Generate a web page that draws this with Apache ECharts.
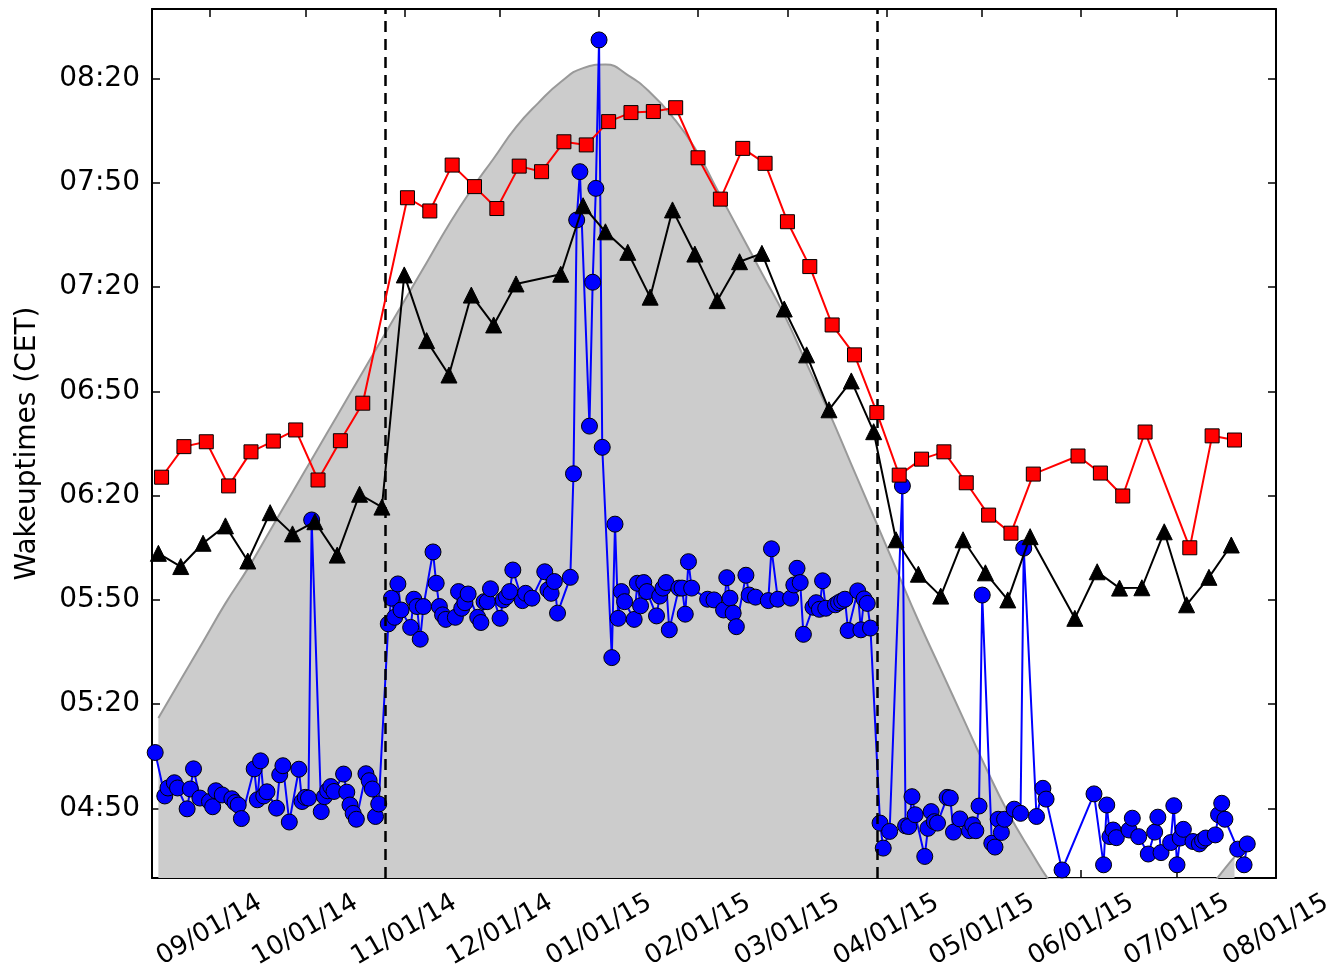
<!DOCTYPE html>
<html>
<head>
<meta charset="utf-8">
<script src="https://cdn.jsdelivr.net/npm/echarts@6/dist/echarts.min.js"></script>
<style>
  html, body { margin: 0; padding: 0; background: #ffffff; }
  #chart { width: 1332px; height: 967px; }
</style>
</head>
<body>
<div id="chart"></div>
<script>
// All day numbers count from this first day (UTC dates).
const START_DAY = '2014-08-14';
const END_DAY = '2015-08-01';

// Daily wake-up times (minutes after midnight, CET)
const dailyDays = [1,4,5,7,8,11,12,13,15,18,19,20,22,25,26,27,28,32,33,34,35,36,39,40,41,43,46,47,48,49,50,53,54,55,56,57,60,61,62,63,64,67,68,69,70,71,
  74,75,76,77,78,81,82,83,84,85,88,89,90,91,92,95,96,97,98,99,102,103,104,105,106,109,110,111,112,113,116,117,119,123,124,125,126,127,131,
  132,133,134,137,138,139,140,141,144,145,
  146,147,148,151,152,153,154,155,158,159,160,161,162,165,166,167,168,169,174,
  176,179,180,181,182,183,186,187,189,193,194,196,200,201,202,203,204,207,208,209,210,211,214,215,216,217,218,221,222,223,224,225,
  228,229,231,235,236,237,238,239,242,243,244,245,246,249,250,251,253,256,257,258,259,260,263,264,265,266,267,270,272,273,277,279,280,285,
  295,298,299,300,301,302,306,307,309,312,314,315,316,319,320,321,322,323,326,328,329,330,333,334,335,336,340,342,343];
const dailyTimes = [306.1,293.6,295.9,297.4,295.9,289.9,295.6,301.4,293,292,290.5,295.1,293.9,292.8,291.7,291,287.1,301.4,292.5,303.7,293.6,294.8,290.1,299.7,302.3,286.1,301.3,292,293.2,293,373,289.1,293.4,295.1,296.3,294.9,299.9,294.7,291,288.6,286.9,300,298,295.6,287.7,291.3,
  343.1,350.5,345,354.6,347.1,342.1,350.2,348.1,338.7,348.1,363.8,354.8,348.1,345.7,344.4,345,352.4,347.6,349.2,351.7,345,343.5,349.5,349.5,353.2,344.7,350,350.9,352.4,358.6,349.8,351.9,350.5,358.1,352.9,351.9,355.3,346.2,356.5,
  386.3,459.3,473.2,400,441.4,468.4,511.1,393.9,333.4,371.8,
  344.7,352.4,349.5,344.4,354.8,348.3,355,352.4,345.4,351.1,353.4,355,341.4,353.4,353.4,345.9,361,353.4,350.2,
  350,347.1,356.4,350.5,346.2,342.3,357.1,351.4,350.8,349.8,364.7,350.2,350.5,354.3,359.1,355,340.1,347.9,349.2,347.3,355.5,347.6,348.6,349.2,349.7,350.2,341.2,352.6,341.4,350.3,349,341.9,
  285.8,278.6,283.4,382.8,285,284.8,293.4,288.2,276.2,284.3,289.1,286.2,285.8,293.2,293,283.2,287,283.6,285.3,283.6,290.7,351.4,280,278.9,286.9,283.1,286.9,289.8,288.6,364.9,287.7,295.8,292.7,272.3,
  294.2,273.8,291,281.9,283.8,281.6,283.8,287.2,281.9,276.9,283.2,287.5,277.3,280.2,290.8,273.8,281.5,284,280.5,279.8,280.8,281.5,282.4,288.2,291.5,286.9,278.3,273.8,279.8];

// Weekly values (black triangles)
const weeklyMidDays = [2,9,16,23,30,37,44,51,58,65,72,79,86,93,100,107,114,
  128,135,142,149,156,163,170,177,184,191,198,205,212,219,226,233,240,247,254,261,268,275,
  289,296,303,310,317,324,331,338];
const weeklyMidTimes = [363.4,359.6,366.3,371.3,361.2,375.1,369,372.5,362.9,380.4,376.7,443.5,424.6,414.7,437.7,429.1,440.9,
  443.7,463.4,455.9,450,437.1,462.2,449.5,436.1,447.3,449.7,433.7,420.5,404.7,413,398.4,367.3,357.4,351.1,367.3,357.8,350,368.2,
  344.7,358.1,353.4,353.5,369.6,348.6,356.5,365.8];

// Weekly values (red squares)
const weeklyHighDays = [3,10,17,24,31,38,45,52,59,66,
  80,87,94,101,108,115,122,129,136,143,150,157,164,171,178,185,192,199,206,213,220,227,234,241,248,255,262,269,276,
  290,297,304,311,325,332,339];
const weeklyHighTimes = [385.3,394.1,395.5,382.8,392.6,395.7,398.9,384.5,395.8,406.6,
  465.7,461.9,475.1,468.9,462.6,474.8,473.2,481.8,480.9,487.6,490.2,490.5,491.6,477.2,465.3,479.9,475.6,458.8,445.9,429.1,420.5,403.9,385.9,390.5,392.6,383.7,374.4,369.2,386.2,
  391.4,386.5,379.9,398.3,365,397.2,396];

// Sunrise (minutes after midnight, CET), weekly from Aug 16
const sunriseDays = [2,9,16,23,30,37,44,51,58,65,72,79,86,93,100,107,114,121,128,135,142,149,156,163,170,177,184,191,198,205,212,219,226,233,240,247,254,261,268,275,282,289,296,303,310,317,324,331,338,339];
const sunriseTimes = [316,327,338,349,359,370,381,392,403,414,425,436,447,458,468,477,486,493,499,503,504,501,496,489,480,468,456,444,432,418,404,389,374,359,344,330,316,302,289,278,268,261,256,253,252,254,259,267,275,276];

// Clock changes (dashed lines)
const clockChanges = ['2014-10-26', '2015-03-29'];

// Axis ticks
const monthTicks = ['2014-09-01','2014-10-01','2014-11-01','2014-12-01','2015-01-01','2015-02-01','2015-03-01',
  '2015-04-01','2015-05-01','2015-06-01','2015-07-01','2015-08-01'];
const clockTicks = ['04:50','05:20','05:50','06:20','06:50','07:20','07:50','08:20'];
const Y_MIN = '04:30';
const Y_MAX = '08:40';

const DAY_MS = 86400000;
const startMs = Date.parse(START_DAY + 'T00:00:00Z');
const endMs = Date.parse(END_DAY + 'T00:00:00Z');
const toMs = d => startMs + d * DAY_MS;
const dateMs = s => Date.parse(s + 'T00:00:00Z');
const clockMin = s => { const [h, m] = s.split(':').map(Number); return h * 60 + m; };
const pad = n => (n < 10 ? '0' : '') + n;
const fmtDate = v => { const d = new Date(v); return pad(d.getUTCMonth() + 1) + '/' + pad(d.getUTCDate()) + '/' + String(d.getUTCFullYear()).slice(2); };
const fmtClock = v => pad(Math.floor(v / 60)) + ':' + pad(Math.round(v % 60));

const pairs = (days, vals) => days.map((d, i) => [toMs(d), vals[i]]);

const FONT = 'DejaVu Sans';
const xTickVals = monthTicks.map(dateMs);
const yTickVals = clockTicks.map(clockMin);
const tickStyle = { inside: true, length: 8, lineStyle: { color: '#000', width: 1.5 } };
const frameLine = { show: true, onZero: false, lineStyle: { color: '#000', width: 2 } };

const chart = echarts.init(document.getElementById('chart'), null, { renderer: 'canvas' });
chart.setOption({
  animation: false,
  backgroundColor: '#ffffff',
  grid: { left: 152, right: 56, top: 9, bottom: 89, containLabel: false, outerBoundsMode: 'none' },
  xAxis: [{
    type: 'value', min: startMs, max: endMs, position: 'bottom',
    axisLine: frameLine,
    axisTick: Object.assign({ customValues: xTickVals }, tickStyle),
    splitLine: { show: false },
    axisLabel: {
      customValues: xTickVals, formatter: fmtDate, rotate: 30,
      align: 'center', verticalAlign: 'middle', margin: 52,
      fontFamily: FONT, fontSize: 26, color: '#000'
    }
  }, {
    type: 'value', min: startMs, max: endMs, position: 'top',
    axisLine: frameLine,
    axisTick: Object.assign({ customValues: xTickVals }, tickStyle),
    splitLine: { show: false },
    axisLabel: { show: false }
  }],
  yAxis: [{
    type: 'value', min: clockMin(Y_MIN), max: clockMin(Y_MAX), position: 'left',
    name: 'Wakeuptimes (CET)', nameLocation: 'middle', nameGap: 110, nameRotate: 90,
    nameTextStyle: { fontFamily: FONT, fontSize: 28, color: '#000' },
    axisLine: frameLine,
    axisTick: Object.assign({ customValues: yTickVals }, tickStyle),
    splitLine: { show: false },
    axisLabel: { customValues: yTickVals, formatter: fmtClock, margin: 12, fontFamily: FONT, fontSize: 28, color: '#000' }
  }, {
    type: 'value', min: clockMin(Y_MIN), max: clockMin(Y_MAX), position: 'right',
    axisLine: frameLine,
    axisTick: Object.assign({ customValues: yTickVals }, tickStyle),
    splitLine: { show: false },
    axisLabel: { show: false }
  }],
  series: [{
    name: 'Sunrise', type: 'line', z: 1,
    data: pairs(sunriseDays, sunriseTimes),
    smooth: 0.5, symbol: 'none',
    lineStyle: { color: '#999999', width: 2 },
    areaStyle: { color: '#cccccc', opacity: 1, origin: 'start' }
  }, {
    name: 'Clock change', type: 'line', z: 2, data: [],
    markLine: {
      silent: true, symbol: 'none', label: { show: false },
      lineStyle: { color: '#000', width: 2.5, type: [11, 7] },
      data: clockChanges.map(s => ({ xAxis: dateMs(s) }))
    }
  }, {
    name: 'Daily', type: 'line', z: 3,
    data: pairs(dailyDays, dailyTimes),
    symbol: 'circle', symbolSize: 16,
    itemStyle: { color: '#0000ff', borderColor: '#000', borderWidth: 1 },
    lineStyle: { color: '#0000ff', width: 2 }
  }, {
    name: 'Weekly mid', type: 'line', z: 4,
    data: pairs(weeklyMidDays, weeklyMidTimes),
    symbol: 'triangle', symbolSize: 16,
    itemStyle: { color: '#000000', borderColor: '#000', borderWidth: 1 },
    lineStyle: { color: '#000000', width: 2 }
  }, {
    name: 'Weekly high', type: 'line', z: 5,
    data: pairs(weeklyHighDays, weeklyHighTimes),
    symbol: 'rect', symbolSize: 14,
    itemStyle: { color: '#ff0000', borderColor: '#000', borderWidth: 1 },
    lineStyle: { color: '#ff0000', width: 2 }
  }]
});
</script>
</body>
</html>
